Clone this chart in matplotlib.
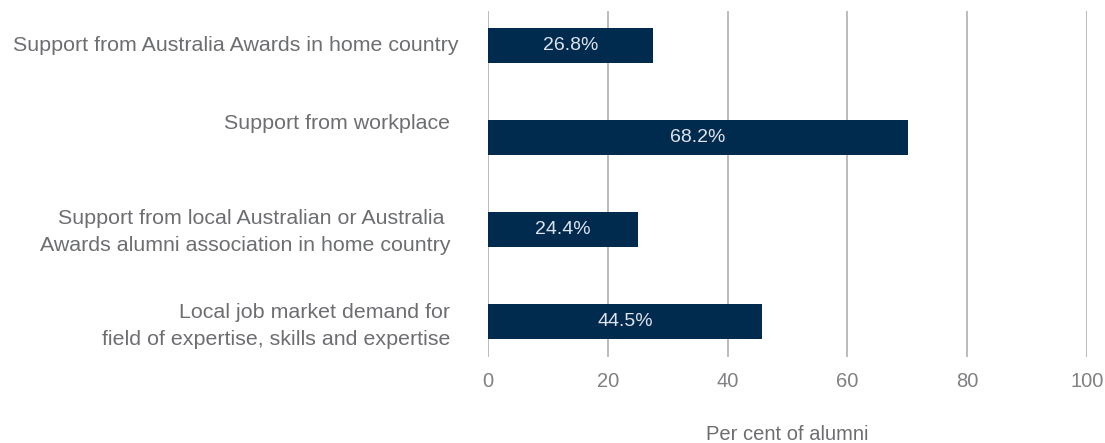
import matplotlib
matplotlib.use("Agg")
import matplotlib.pyplot as plt
import matplotlib.transforms as mtransforms
import numpy as np

categories = [
    "Support from Australia Awards in home country",
    "Support from workplace",
    "Support from local Australian or Australia \nAwards alumni association in home country",
    "Local job market demand for\nfield of expertise, skills and expertise",
]
# bar lengths as drawn in the picture, and the printed labels
bar_values = [27.5, 70.1, 25.0, 45.7]
bar_labels = ["26.8%", "68.2%", "24.4%", "44.5%"]
x_ticks = [0, 20, 40, 60, 80, 100]

plt.rcParams['font.family'] = ['Liberation Sans', 'DejaVu Sans']

fig = plt.figure(figsize=(11.05, 4.43), dpi=100)
ax = fig.add_axes([0.4416, 0.1941, 0.5421, 0.7811])

y = np.arange(len(categories))
ax.barh(y, bar_values, height=0.38, color='#012a4f', zorder=3)
for yi, v, lab in zip(y, bar_values, bar_labels):
    ax.text(v / 2, yi, lab, ha='center', va='center', color='#dfe3ea',
            fontsize=14, zorder=4)

ax.set_xlim(0, 100)
ax.set_ylim(3.388, -0.373)
ax.set_xticks(x_ticks)
ax.set_xticklabels([str(t) for t in x_ticks], fontsize=14.5, color='#808184')
ax.set_yticks(y)
ax.set_yticklabels(categories, fontsize=15.4, color='#6d6e71', linespacing=1.5)
ax.tick_params(axis='y', length=0, pad=27)
ax.tick_params(axis='x', length=0, pad=11)
ax.xaxis.grid(True, color='#a7a9ac', linewidth=1.1, zorder=0)
for s in ax.spines.values():
    s.set_visible(False)

# small label offsets seen in the original (pixels: right, up)
shifts = {0: (8, 2), 1: (0, 16), 2: (0, 3), 3: (0, 1)}
ticklabels = ax.get_yticklabels()
for i, (dx, dy) in shifts.items():
    lab = ticklabels[i]
    lab.set_transform(lab.get_transform() +
                      mtransforms.ScaledTranslation(dx / 100, dy / 100,
                                                    fig.dpi_scale_trans))

ax.set_xlabel("Per cent of alumni", fontsize=14.5, color='#6d6e71',
              labelpad=24)

fig.savefig("out.png", dpi=100)
